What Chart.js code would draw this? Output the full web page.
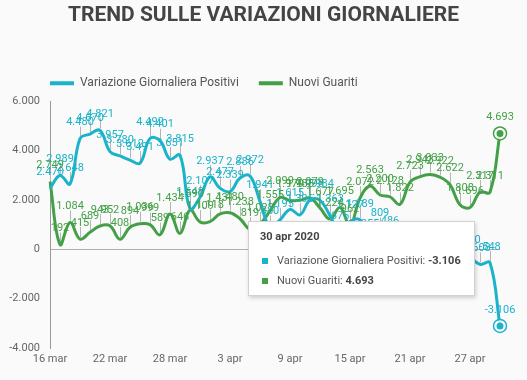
<!DOCTYPE html>
<html><head><meta charset="utf-8">
<script src="https://cdn.jsdelivr.net/npm/chart.js@4.4.1/dist/chart.umd.min.js"></script>
<style>
html,body{margin:0;padding:0;background:#fafafa;}
#wrap{position:relative;width:527px;height:380px;}
#tt{position:absolute;box-sizing:border-box;width:227px;background:#fff;border:1px solid #d2d2d2;box-shadow:1px 2px 4px rgba(0,0,0,0.18);padding:8px 11px 4px 11px;font-family:Roboto,sans-serif;font-size:11px;color:#555;}
#tt .t{font-weight:bold;color:#444;line-height:14px;margin-bottom:7px;font-size:11px;}
#tt .r{line-height:20px;white-space:nowrap;}
#tt .sq{display:inline-block;width:6px;height:6px;margin:0 9px 1px 2px;vertical-align:middle;}
#tt b{color:#444;}
</style></head>
<body><div id="wrap"><canvas id="c"></canvas><div id="tt"></div></div>
<script>
const categories = ["16 mar","17 mar","18 mar","19 mar","20 mar","21 mar","22 mar","23 mar","24 mar","25 mar","26 mar","27 mar","28 mar","29 mar","30 mar","31 mar","1 apr","2 apr","3 apr","4 apr","5 apr","6 apr","7 apr","8 apr","9 apr","10 apr","11 apr","12 apr","13 apr","14 apr","15 apr","16 apr","17 apr","18 apr","19 apr","20 apr","21 apr","22 apr","23 apr","24 apr","25 apr","26 apr","27 apr","28 apr","29 apr","30 apr"];
const variazionePositivi = [2470,2989,2648,4480,4670,4821,3957,3780,3612,3491,4492,4401,3651,3815,1648,2107,2937,2477,2339,2886,2972,1941,880,1195,1615,1396,1996,1984,1363,675,1127,1189,355,809,486,-20,-528,-10,-851,-321,-680,256,-290,-608,-548,-3106];
const nuoviGuariti = [2749,192,1084,415,689,943,952,408,894,1036,999,589,1434,646,1590,1109,1118,1431,1480,1238,819,1022,1555,2099,1979,1985,2079,1677,1224,1695,962,2072,2563,2200,2128,1822,2723,2943,3033,2922,2622,1808,1696,2317,2311,4693];
const seriesNames = ["Variazione Giornaliera Positivi","Nuovi Guariti"];
const yTicks = [-4000,-2000,0,2000,4000,6000];
const xTickEvery = 6;
const year = "2020";
const COL = ["#1ab3ca","#43a047"];

function fmt(v){const s=Math.abs(v).toString().replace(/\B(?=(\d{3})+(?!\d))/g,'.');return (v<0?'-':'')+s;}
const activeIndex = categories.length-1;

const labelPlugin = {
  id:'pointLabels',
  beforeDatasetsDraw(chart){
    const ctx=chart.ctx; ctx.save();
    ctx.strokeStyle='#b5b5b5'; ctx.lineWidth=1;
    chart.data.datasets.forEach((ds,di)=>{
      chart.getDatasetMeta(di).data.forEach((pt,i)=>{
        if(i===activeIndex) return;
        const x=Math.round(pt.x)+0.5;
        ctx.beginPath(); ctx.moveTo(x,pt.y-12); ctx.lineTo(x,pt.y-2); ctx.stroke();
      });
    });
    ctx.restore();
  },
  afterDatasetsDraw(chart){
    const ctx=chart.ctx; ctx.save();
    ctx.font='11px Roboto'; ctx.textAlign='center'; ctx.textBaseline='middle';
    chart.data.datasets.forEach((ds,di)=>{
      chart.getDatasetMeta(di).data.forEach((pt,i)=>{
        ctx.fillStyle=ds.borderColor;
        ctx.fillText(fmt(ds.data[i]),pt.x,pt.y-16);
      });
    });
    chart.data.datasets.forEach((ds,di)=>{
      const pt=chart.getDatasetMeta(di).data[activeIndex];
      ctx.beginPath(); ctx.arc(pt.x,pt.y,6.5,0,Math.PI*2);
      ctx.fillStyle='rgba(255,255,255,0.8)'; ctx.fill();
      ctx.lineWidth=1.5; ctx.strokeStyle=ds.borderColor; ctx.stroke();
      ctx.beginPath(); ctx.arc(pt.x,pt.y,3.5,0,Math.PI*2);
      ctx.fillStyle=ds.borderColor; ctx.fill();
    });
    ctx.restore();
  },
  afterLayout(chart){
    chart.legend.left = chart.chartArea.left - chart.options.plugins.legend.labels.padding;
    chart.legend.top -= 2;
    chart.titleBlock.left = 0;
    chart.titleBlock.right = chart.width;
  }
};

const chart = new Chart(document.getElementById('c'),{
  type:'line',
  data:{labels:categories,datasets:[
    {label:seriesNames[0],data:variazionePositivi,borderColor:COL[0],backgroundColor:COL[0]},
    {label:seriesNames[1],data:nuoviGuariti,borderColor:COL[1],backgroundColor:COL[1]}
  ]},
  options:{
    responsive:true,maintainAspectRatio:false,animation:false,
    layout:{padding:{left:0,right:27,top:0,bottom:0}},
    elements:{line:{borderWidth:3,tension:0.4,fill:false},point:{radius:0,hoverRadius:0}},
    events:[],
    plugins:{
      title:{display:true,text:'TREND SULLE VARIAZIONI GIORNALIERE',color:'#444',font:{family:'Roboto',size:21,weight:'bold'},padding:{top:3,bottom:31}},
      legend:{display:true,align:'start',labels:{boxWidth:24,boxHeight:4,padding:20,color:'#555',font:{family:'Roboto',size:12},
        generateLabels(ch){const it=Chart.defaults.plugins.legend.labels.generateLabels(ch);it.forEach(o=>{o.lineWidth=0;});return it;}}},
      tooltip:{enabled:false}
    },
    scales:{
      x:{grid:{display:false,drawTicks:false},border:{display:false},
        ticks:{autoSkip:false,maxRotation:0,padding:5,color:'#666',font:{family:'Roboto',size:11},
          callback(v,i){return i%xTickEvery===0?categories[i]:null;}},
        afterFit(s){s.height=32;}},
      y:{min:yTicks[0],max:yTicks[yTicks.length-1],
        afterBuildTicks(s){s.ticks=yTicks.map(v=>({value:v}));},
        grid:{drawTicks:false,color(c){return c.tick&&c.tick.value===0?'#b0b0b0':'rgba(0,0,0,0)';}},
        border:{display:true,color:'#999'},
        ticks:{padding:10,color:'#666',font:{family:'Roboto',size:11},callback(v){return fmt(v);}},
        afterFit(s){s.width=50;}}
    }
  },
  plugins:[labelPlugin]
});

const tt=document.getElementById('tt');
tt.innerHTML='<div class="t">'+categories[activeIndex]+' '+year+'</div>'+
  seriesNames.map((n,i)=>'<div class="r"><span class="sq" style="background:'+COL[i]+'"></span>'+n+': <b>'+fmt(chart.data.datasets[i].data[activeIndex])+'</b></div>').join('');
const xp=chart.scales.x.getPixelForValue(activeIndex);
tt.style.left=(xp-25-227)+'px';
tt.style.top='221px';
</script>
</body></html>
